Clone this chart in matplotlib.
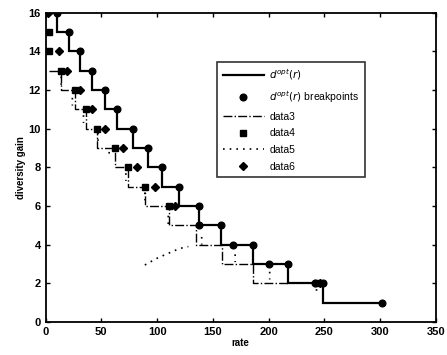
import numpy as np
import matplotlib
matplotlib.use("Agg")
import matplotlib.pyplot as plt

plt.rcParams['font.family'] = ['Liberation Sans', 'DejaVu Sans']

# optimal tradeoff d*(r): stair edges and levels
opt_edges = [0, 10, 21, 31, 42, 53, 64, 78, 92, 104, 120, 138, 157, 186, 217, 249, 302]
opt_levels = [16, 15, 14, 13, 12, 11, 10, 9, 8, 7, 6, 5, 4, 3, 2, 1]

# breakpoints of d*(r)
bp_x = [10, 21, 31, 42, 53, 64, 78, 92, 104, 120, 138, 138, 157, 168, 186, 200, 217, 242, 249, 302]
bp_y = [16, 15, 14, 13, 12, 11, 10, 9, 8, 7, 6, 5, 5, 4, 4, 3, 3, 2, 2, 1]

# data3 (dash-dot staircase)
d3_x = [3, 14, 26, 36, 46, 62, 74, 89, 111, 135, 158, 186, 217]
d3_y = [13, 12, 11, 10, 9, 8, 7, 6, 5, 4, 3, 2, 2]

# data4 (squares)
d4_x = [3, 3, 14, 26, 36, 46, 62, 74, 89, 111, 243]
d4_y = [15, 14, 13, 12, 11, 10, 9, 8, 7, 6, 2]

# data5 (dotted pieces)
d5_x = [14, 14, np.nan, 24, 24, np.nan, 34, 34, np.nan, 47, 47, np.nan, 57, 57, np.nan,
        72, 72, np.nan, 89, 89, np.nan, 110, 110, np.nan,
        89, 100, 120, 128, np.nan, 140, 140, np.nan, 170, 170, np.nan, 201, 201, np.nan, 243, 243]
d5_y = [12.7, 12.2, np.nan, 11.6, 11.2, np.nan, 10.7, 10.3, np.nan, 9.8, 9.2, np.nan, 8.8, 8.5, np.nan,
        7.7, 7.3, np.nan, 6.7, 6.3, np.nan, 5.5, 5.0, np.nan,
        2.95, 3.3, 3.8, 3.9, np.nan, 4.4, 4.0, np.nan, 3.5, 3.1, np.nan, 2.6, 2.2, np.nan, 1.7, 1.4]

# data6 (diamonds)
d6_x = [2, 12, 19, 31, 42, 53, 69, 82, 98, 116, 246]
d6_y = [16, 14, 13, 12, 11, 10, 9, 8, 7, 6, 2]

fig = plt.figure(figsize=(4.47, 3.55), dpi=100)
ax = fig.add_axes([0.102, 0.093, 0.873, 0.871])

ax.stairs(opt_levels, opt_edges, color='black', lw=1.6, baseline=None, label='$d^{opt}(r)$')
ax.plot(bp_x, bp_y, 'o', color='black', ms=4.8, label='$d^{opt}(r)$ breakpoints')
ax.step(d3_x, d3_y, where='post', color='black', ls='-.', lw=1.0, label='data3')
ax.plot(d4_x, d4_y, 's', color='black', ms=4.5, label='data4')
ax.plot(d5_x, d5_y, color='black', ls=(0, (1, 3)), lw=1.2, label='data5')
ax.plot(d6_x, d6_y, 'D', color='black', ms=3.8, label='data6')

ax.set_xlim(0, 350)
ax.set_ylim(0, 16)
ax.set_xticks(np.arange(0, 351, 50))
ax.set_yticks(np.arange(0, 17, 2))
ax.tick_params(direction='in', top=True, right=True, labelsize=8, length=3, width=1)
for lab in ax.get_xticklabels() + ax.get_yticklabels():
    lab.set_fontweight('bold')
for s in ax.spines.values():
    s.set_linewidth(1.3)
ax.set_xlabel('rate', fontsize=7, fontweight='bold', labelpad=1)
ax.set_ylabel('diversity gain', fontsize=7, fontweight='bold', labelpad=2)

leg = ax.legend(loc='upper left', bbox_to_anchor=(0.44, 0.84), fontsize=7.5, frameon=True,
                fancybox=False, edgecolor='black', handlelength=4, borderpad=0.5,
                labelspacing=0.65, handletextpad=0.5, borderaxespad=0)
leg.get_frame().set_linewidth(1.2)

fig.savefig('out.png', dpi=100)
